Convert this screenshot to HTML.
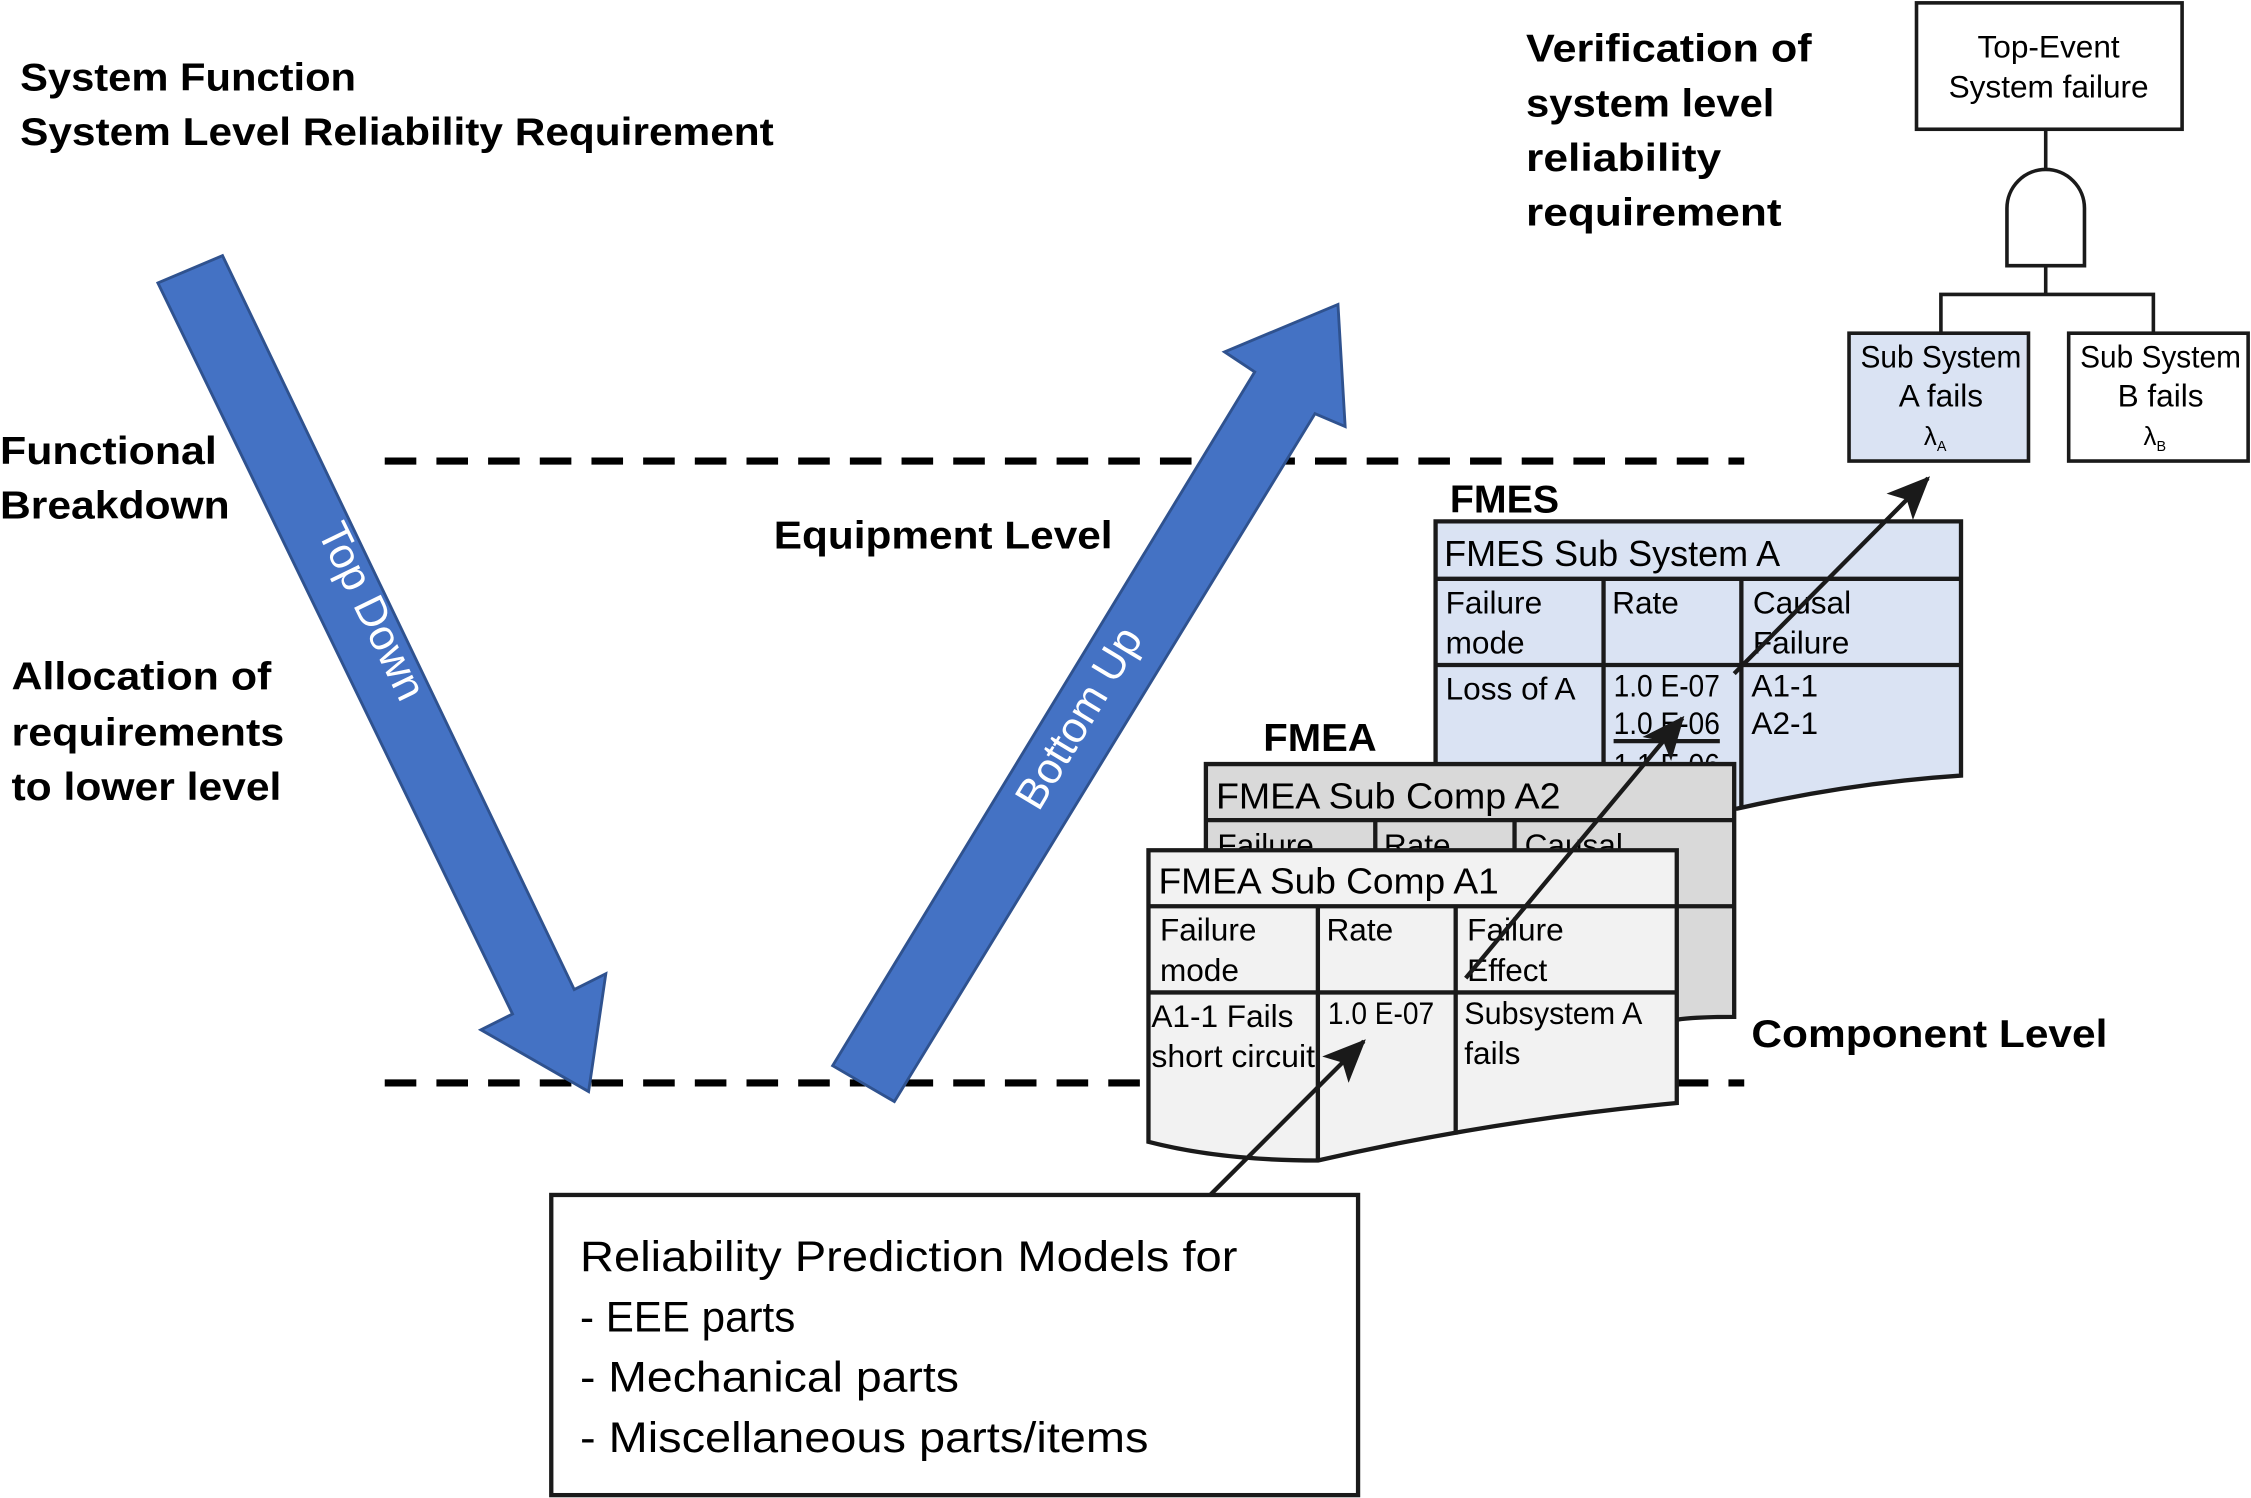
<!DOCTYPE html>
<html><head><meta charset="utf-8"><style>
html,body{margin:0;padding:0;background:#fff;}
svg{display:block;}
text{font-family:"Liberation Sans",sans-serif;fill:#000;}
.b{font-weight:bold;font-size:27px;}
.t{font-size:22px;}
.h{font-size:25px;}
</style></head><body>
<svg width="2251" height="1498" viewBox="0 0 1568 1043" preserveAspectRatio="none" xmlns="http://www.w3.org/2000/svg">
<defs>
<marker id="ah2" markerWidth="30" markerHeight="26" refX="28" refY="13" orient="auto" markerUnits="userSpaceOnUse"><path d="M0,0 L30,13 L0,26 L7,13 z" fill="#1a1a1a"/></marker></defs>

<text class="b" x="14" y="63" textLength="234" lengthAdjust="spacingAndGlyphs">System Function</text>
<text class="b" x="14" y="101" textLength="525" lengthAdjust="spacingAndGlyphs">System Level Reliability Requirement</text>
<text class="b" x="1063" y="43" textLength="199" lengthAdjust="spacingAndGlyphs">Verification of</text>
<text class="b" x="1063" y="81" textLength="173" lengthAdjust="spacingAndGlyphs">system level</text>
<text class="b" x="1063" y="119" textLength="136" lengthAdjust="spacingAndGlyphs">reliability</text>
<text class="b" x="1063" y="157" textLength="178" lengthAdjust="spacingAndGlyphs">requirement</text>
<text class="b" x="0" y="323" textLength="151" lengthAdjust="spacingAndGlyphs">Functional</text>
<text class="b" x="0" y="361" textLength="160" lengthAdjust="spacingAndGlyphs">Breakdown</text>
<text class="b" x="8" y="480" textLength="181" lengthAdjust="spacingAndGlyphs">Allocation of</text>
<text class="b" x="8" y="519" textLength="190" lengthAdjust="spacingAndGlyphs">requirements</text>
<text class="b" x="8" y="557" textLength="188" lengthAdjust="spacingAndGlyphs">to lower level</text>
<text class="b" x="539" y="382" textLength="236" lengthAdjust="spacingAndGlyphs">Equipment Level</text>
<text class="b" x="1220" y="729" textLength="248" lengthAdjust="spacingAndGlyphs">Component Level</text>

<!-- fault tree -->
<rect x="1335" y="2" width="185" height="88" fill="#fff" stroke="#1a1a1a" stroke-width="2.5"/>
<text class="t" x="1427" y="40" text-anchor="middle">Top-Event</text>
<text class="t" x="1427" y="68" text-anchor="middle">System failure</text>
<line x1="1425" y1="90" x2="1425" y2="118" stroke="#1a1a1a" stroke-width="2.5"/>
<path d="M1398,185 L1398,145 A27,27 0 0 1 1452,145 L1452,185 Z" fill="#fff" stroke="#1a1a1a" stroke-width="2.5"/>
<path d="M1425,185 L1425,205 M1352,232 L1352,205 L1500,205 L1500,232" fill="none" stroke="#1a1a1a" stroke-width="2.5"/>
<rect x="1288" y="232" width="125" height="89" fill="#dae3f3" stroke="#1a1a1a" stroke-width="2.5"/>
<rect x="1441" y="232" width="125" height="89" fill="#fff" stroke="#1a1a1a" stroke-width="2.5"/>
<text class="t" x="1352" y="256" text-anchor="middle" textLength="112" lengthAdjust="spacingAndGlyphs">Sub System</text>
<text class="t" x="1352" y="283" text-anchor="middle">A fails</text>
<text x="1348" y="310" font-size="18" text-anchor="middle">λ<tspan font-size="10" dy="4">A</tspan></text>
<text class="t" x="1505" y="256" text-anchor="middle" textLength="112" lengthAdjust="spacingAndGlyphs">Sub System</text>
<text class="t" x="1505" y="283" text-anchor="middle">B fails</text>
<text x="1501" y="310" font-size="18" text-anchor="middle">λ<tspan font-size="10" dy="4">B</tspan></text>

<!-- dashed lines -->
<line x1="268" y1="321" x2="1215" y2="321" stroke="#000" stroke-width="5" stroke-dasharray="22,14"/>
<line x1="268" y1="754" x2="1215" y2="754" stroke="#000" stroke-width="5" stroke-dasharray="22,14"/>

<!-- Top Down arrow -->
<polygon points="110,197 155,178 400,689 422,678 410,760 335,717 357,706" fill="#4472c4" stroke="#2f528f" stroke-width="2"/>
<text x="0" y="0" font-size="30" style="fill:#fff" text-anchor="middle" transform="translate(250,430) rotate(64)">Top Down</text>
<!-- Bottom Up arrow -->
<polygon points="580,742 623,767 916,288 937,297 932,212 853,245 874,259" fill="#4472c4" stroke="#2f528f" stroke-width="2"/>
<text x="0" y="0" font-size="30" style="fill:#fff" text-anchor="middle" transform="translate(760,505) rotate(-59)">Bottom Up</text>

<!-- FMES -->
<text class="b" x="1010" y="357" textLength="76" lengthAdjust="spacingAndGlyphs">FMES</text>
<path d="M1000,363 L1366,363 L1366,540 Q1290,545 1210,563 L1000,563 Z" fill="#dae3f3" stroke="#1a1a1a" stroke-width="3"/>
<path d="M1000,403 L1366,403 M1000,463 L1366,463 M1117,403 L1117,563 M1213,403 L1213,563" stroke="#1a1a1a" stroke-width="3"/>
<text class="h" x="1006" y="394" textLength="234" lengthAdjust="spacingAndGlyphs">FMES Sub System A</text>
<text class="t" x="1007" y="427">Failure</text><text class="t" x="1007" y="455">mode</text>
<text class="t" x="1123" y="427">Rate</text>
<text class="t" x="1221" y="427">Causal</text><text class="t" x="1221" y="455">Failure</text>
<text class="t" x="1007" y="487">Loss of A</text>
<text class="t" x="1124" y="485" textLength="74" lengthAdjust="spacingAndGlyphs">1.0 E-07</text>
<text class="t" x="1124" y="511" textLength="74" lengthAdjust="spacingAndGlyphs">1.0 E-06</text>
<line x1="1124" y1="516" x2="1198" y2="516" stroke="#1a1a1a" stroke-width="3"/>
<text class="t" x="1124" y="540" textLength="74" lengthAdjust="spacingAndGlyphs">1.1 E-06</text>
<text class="t" x="1220" y="485">A1-1</text>
<text class="t" x="1220" y="511">A2-1</text>

<!-- FMEA A2 -->
<text class="b" x="880" y="523" textLength="79" lengthAdjust="spacingAndGlyphs">FMEA</text>
<path d="M840,532 L1208,532 L1208,708 Q1180,708 1168,710 L840,710 Z" fill="#d9d9d9" stroke="#1a1a1a" stroke-width="3"/>
<path d="M840,571 L1208,571 M840,631 L1208,631 M958,571 L958,631 M1055,571 L1055,631" stroke="#1a1a1a" stroke-width="3"/>
<text class="h" x="847" y="563" textLength="240" lengthAdjust="spacingAndGlyphs">FMEA Sub Comp A2</text>
<text class="t" x="848" y="596">Failure</text>
<text class="t" x="964" y="596">Rate</text>
<text class="t" x="1062" y="596">Causal</text>

<!-- FMEA A1 -->
<path d="M800,592 L1168,592 L1168,768 Q1040,780 918,808 Q850,808 800,795 Z" fill="#f2f2f2" stroke="#1a1a1a" stroke-width="3"/>
<path d="M800,631 L1168,631 M800,691 L1168,691 M918,631 L918,808 M1014,631 L1014,790" stroke="#1a1a1a" stroke-width="3"/>
<text class="h" x="807" y="622" textLength="237" lengthAdjust="spacingAndGlyphs">FMEA Sub Comp A1</text>
<text class="t" x="808" y="655">Failure</text><text class="t" x="808" y="683">mode</text>
<text class="t" x="924" y="655">Rate</text>
<text class="t" x="1022" y="655">Failure</text><text class="t" x="1022" y="683">Effect</text>
<text class="t" x="802" y="715">A1-1 Fails</text>
<text class="t" x="802" y="743" textLength="114" lengthAdjust="spacingAndGlyphs">short circuit</text>
<text class="t" x="925" y="713" textLength="74" lengthAdjust="spacingAndGlyphs">1.0 E-07</text>
<text class="t" x="1020" y="713" textLength="124" lengthAdjust="spacingAndGlyphs">Subsystem A</text>
<text class="t" x="1020" y="741">fails</text>

<!-- connector arrows -->
<line x1="817" y1="858" x2="950" y2="725" stroke="#1a1a1a" stroke-width="3" marker-end="url(#ah2)"/>
<line x1="1021" y1="681" x2="1172" y2="500" stroke="#1a1a1a" stroke-width="3" marker-end="url(#ah2)"/>
<line x1="1208" y1="469" x2="1343" y2="333" stroke="#1a1a1a" stroke-width="3" marker-end="url(#ah2)"/>

<!-- bottom box -->
<rect x="384" y="832" width="562" height="209" fill="#fff" stroke="#1a1a1a" stroke-width="3"/>
<text x="404" y="885" font-size="30" textLength="458" lengthAdjust="spacingAndGlyphs">Reliability Prediction Models for</text>
<text x="404" y="927" font-size="30" textLength="150" lengthAdjust="spacingAndGlyphs">- EEE parts</text>
<text x="404" y="969" font-size="30" textLength="264" lengthAdjust="spacingAndGlyphs">- Mechanical parts</text>
<text x="404" y="1011" font-size="30" textLength="396" lengthAdjust="spacingAndGlyphs">- Miscellaneous parts/items</text>
</svg>
</body></html>
